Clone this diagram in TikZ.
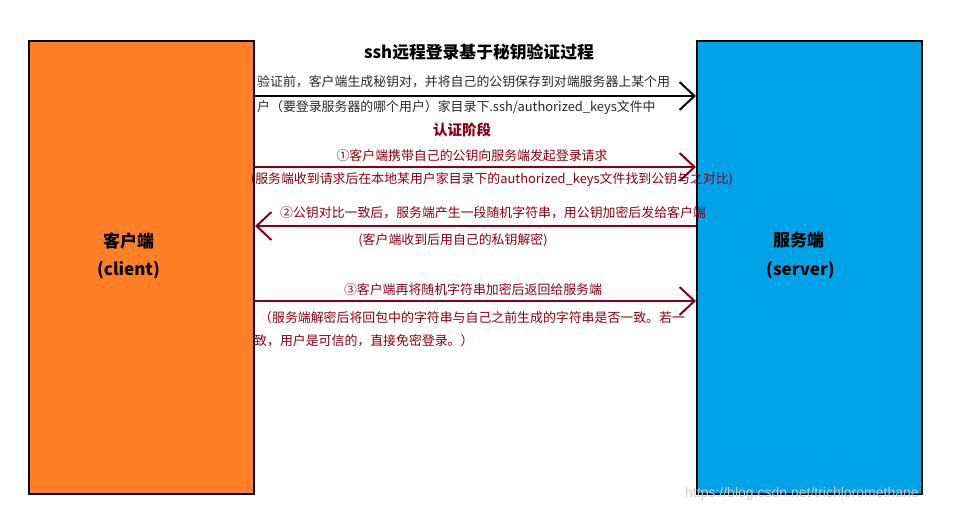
\documentclass[tikz,border=0pt]{standalone}
\usepackage{fontspec}
\setmainfont{Noto Sans CJK SC}
\newfontfamily\markfont{Liberation Sans}
\usetikzlibrary{arrows.meta,positioning,calc}
\definecolor{cliorange}{RGB}{255,127,39}
\definecolor{srvblue}{RGB}{0,162,232}
\definecolor{stepred}{RGB}{136,0,21}
\definecolor{introgray}{RGB}{40,40,40}
\tikzset{
  party/.style={draw=black, line width=2pt, minimum width=225pt, minimum height=452pt, inner sep=0pt},
  plab/.style={font=\fontsize{17}{20}\selectfont\bfseries},
  blkarr/.style={-{Straight Barb[length=15pt,width=28pt,line width=2pt]}, black, line width=2pt},
  redarr/.style={-{Straight Barb[length=15pt,width=28pt,line width=2pt]}, stepred, line width=2pt},
  txt/.style={font=\fontsize{12.9}{16}\selectfont, inner sep=0pt},
  redtxt/.style={txt, text=stepred},
}
\begin{document}
\begin{tikzpicture}[x=1pt, y=-1pt]
  \useasboundingbox (0,0) rectangle (956,511);
  % the two parties
  \node[party, fill=cliorange] (client) at (141.5,267.5) {};
  \node[party, fill=srvblue] (server) at (809.5,267.5) {};
  \node[plab] (clientname) at ($(client.center)+(-13,-27)$) {客户端};
  \node[plab] (clientsub) at ($(client.center)+(-13,3)$) {(client)};
  \node[plab] (servername) at ($(server.center)+(-11,-27)$) {服务端};
  \node[plab] (serversub) at ($(server.center)+(-9,3)$) {(server)};
  % title
  \node[font=\fontsize{16.8}{20}\selectfont\bfseries] (title) at (479,52) {ssh远程登录基于秘钥验证过程};
  % preparation
  \draw[blkarr] (client.east |- 0,96) -- (server.west |- 0,96);
  \node[txt, text=introgray, anchor=west] (prep1) at (257,82) {验证前，客户端生成秘钥对，并将自己的公钥保存到对端服务器上某个用};
  \node[txt, text=introgray, anchor=west] (prep2) at (257,107) {户（要登录服务器的哪个用户）家目录下.ssh/authorized\_keys文件中};
  \node[redtxt, font=\fontsize{14.5}{17}\selectfont\bfseries] (phase) at (462,130) {认证阶段};
  % step 1
  \draw[redarr] (client.east |- 0,167) -- (server.west |- 0,167);
  \node[redtxt] (step1) at (472,156) {①客户端携带自己的公钥向服务端发起登录请求};
  \node[redtxt] (step1b) at (492,180) {(服务端收到请求后在本地某用户家目录下的authorized\_keys文件找到公钥与之对比)};
  % step 2
  \draw[redarr] (server.west |- 0,226) -- (client.east |- 0,226);
  \node[redtxt] (step2) at (493,213) {②公钥对比一致后，服务端产生一段随机字符串，用公钥加密后发给客户端};
  \node[redtxt] (step2b) at (453,240) {(客户端收到后用自己的私钥解密)};
  % step 3
  \draw[redarr] (client.east |- 0,301) -- (server.west |- 0,301);
  \node[redtxt] (step3) at (473,290) {③客户端再将随机字符串加密后返回给服务端};
  \node[redtxt, anchor=west] (step3b) at (259,318) {（服务端解密后将回包中的字符串与自己之前生成的字符串是否一致。若一};
  \node[redtxt, anchor=west] (step3c) at (254,341) {致，用户是可信的，直接免密登录。）};
  % watermark
  \node[font=\markfont\fontsize{14}{16}\selectfont, text=black!20, anchor=west, inner sep=0pt] (mark) at (685,494) {https://blog.csdn.net/trichloromethane};
\end{tikzpicture}
\end{document}
